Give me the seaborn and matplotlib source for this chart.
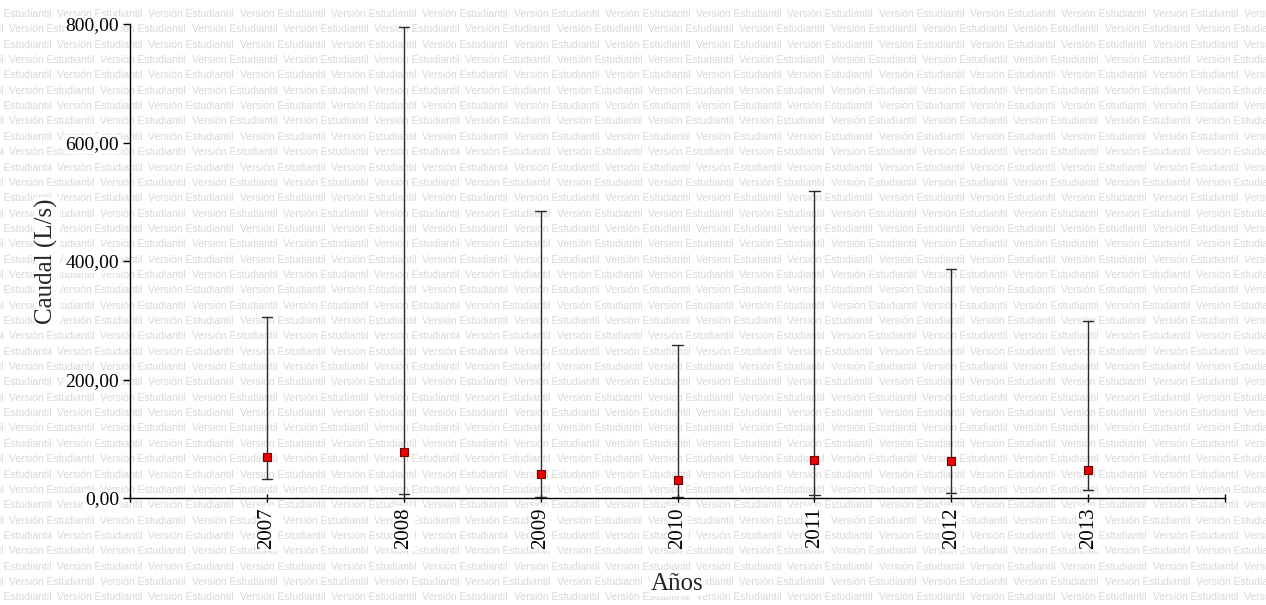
import numpy as np
import pandas as pd
import matplotlib
matplotlib.use("Agg")
import matplotlib.pyplot as plt
import seaborn as sns

# Caudal por año: mínimo, valor central y máximo (L/s)
anios = [2007, 2008, 2009, 2010, 2011, 2012, 2013]
caudal_min = [32, 7, 1, 1, 5, 8, 13]
caudal_medio = [69, 77, 40, 31, 64, 63, 47]
caudal_max = [306, 795, 484, 258, 518, 387, 299]
y_ticks = [0, 200, 400, 600, 800]

sns.set_style("ticks")
plt.rcParams["font.family"] = ["Liberation Serif", "DejaVu Serif"]

W, H = 1266, 605
fig = plt.figure(figsize=(W / 100, H / 100), dpi=100)
fig.patch.set_facecolor("white")

# Marca de agua de fondo
marca = "Versión Estudiantil"
paso_x, paso_y, y0 = 91.3, 15.35, 14.0
for k in range(41):
    yp = y0 + k * paso_y
    xs = 9.0 if k % 2 else 57.0
    xs -= paso_x * np.ceil(xs / paso_x)
    xp = xs
    while xp < W:
        fig.text(xp / W, 1 - yp / H, marca, fontsize=7.5, color="#d8d8d8",
                 family="Liberation Sans", ha="left", va="center", zorder=-5)
        xp += paso_x

ax = fig.add_axes([130 / W, 1 - 498 / H, (1225 - 130) / W, (498 - 24) / H])
ax.patch.set_alpha(0)

df = pd.DataFrame({
    "Año": np.repeat(anios, 3),
    "Caudal": np.column_stack([caudal_min, caudal_medio, caudal_max]).ravel(),
})

sns.pointplot(
    data=df, x="Año", y="Caudal", native_scale=True,
    estimator="median", errorbar=lambda v: (v.min(), v.max()),
    linestyles="none", markers="s", color="#ee0000", capsize=0.075,
    err_kws={"color": "#2a2a2a", "linewidth": 1.0},
    markersize=5.5, markeredgecolor="#6a0000", markeredgewidth=0.8,
    ax=ax,
)
for ln in ax.lines:
    if ln.get_marker() == "s":
        ln.set_zorder(5)

ax.set_xlim(anios[0] - 1, anios[-1] + 1)
ax.set_ylim(y_ticks[0], y_ticks[-1])
xt = list(range(anios[0] - 1, anios[-1] + 2))
ax.set_xticks(xt)
ax.set_xticklabels([str(a) if a in anios else "" for a in xt], rotation=90)
ax.set_yticks(y_ticks)
ax.set_yticklabels([f"{v:.2f}".replace(".", ",") for v in y_ticks])

for s in ("top", "right"):
    ax.spines[s].set_visible(False)
for s in ("left", "bottom"):
    ax.spines[s].set_color("black")
    ax.spines[s].set_linewidth(1.0)

ax.tick_params(axis="x", direction="inout", length=6, width=1, colors="black",
               labelsize=15, pad=4)
ax.tick_params(axis="y", direction="out", length=5, width=1, colors="black",
               labelsize=14, pad=3)

caja = dict(facecolor="white", edgecolor="none", pad=1)
for lab in ax.get_xticklabels() + ax.get_yticklabels():
    lab.set_bbox(caja)

ax.set_xlabel("Años", fontsize=18, labelpad=17, bbox=caja)
ax.set_ylabel("Caudal (L/s)", fontsize=18, labelpad=5, bbox=caja)

fig.savefig("out.png", dpi=100, facecolor="white")
